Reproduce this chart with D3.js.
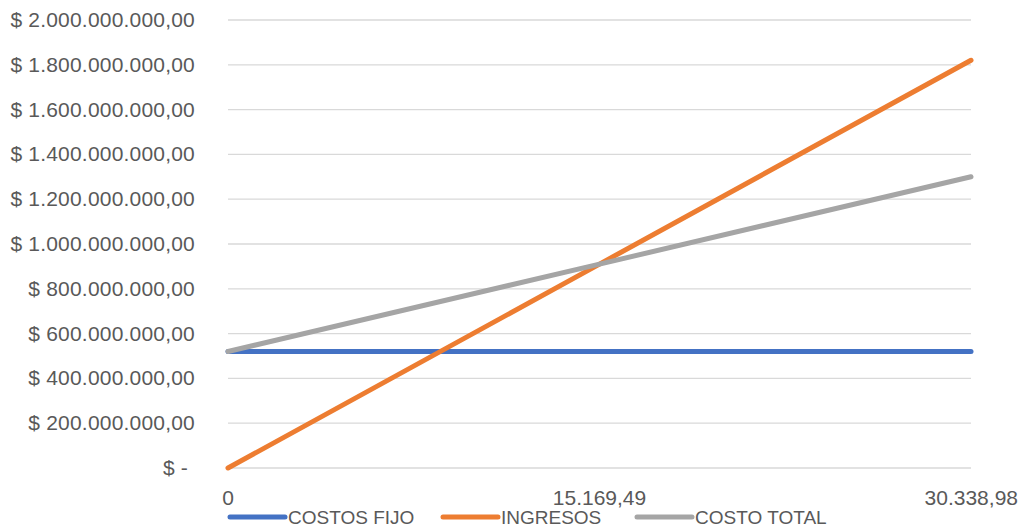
<!DOCTYPE html>
<html lang="es">
<head>
    <meta charset="UTF-8">
    <title>Punto de equilibrio</title>
    <script src="https://d3js.org/d3.v7.min.js"></script>
    <style>
        body { margin: 0; background: #fff; }
        text { font-family: "Liberation Sans", Arial, sans-serif; fill: #595959; }
        .grid line { stroke: #d9d9d9; stroke-width: 1.3; }
    </style>
</head>
<body>
    <svg id="chart" width="1022" height="527"></svg>
    <script>
        const categories = ["0", "15.169,49", "30.338,98"];
        const costosFijo = [520000000, 520000000, 520000000];
        const ingresos = [0, 910170000, 1820340000];
        const costoTotal = [520000000, 910170000, 1300340000];
        const yTicks = [0, 200e6, 400e6, 600e6, 800e6, 1000e6, 1200e6, 1400e6, 1600e6, 1800e6, 2000e6];

        const series = [
            { name: "COSTOS FIJO", values: costosFijo, color: "#4472C4" },
            { name: "INGRESOS", values: ingresos, color: "#ED7D31" },
            { name: "COSTO TOTAL", values: costoTotal, color: "#A5A5A5" }
        ];

        const plotLeft = 228, plotRight = 971, plotTop = 20, plotBottom = 468;

        const svg = d3.select("#chart");

        const x = d3.scalePoint().domain(categories).range([plotLeft, plotRight]).padding(0);
        const y = d3.scaleLinear().domain([0, 2e9]).range([plotBottom, plotTop]);

        const fmt = v => {
            if (v === 0) return "$ -";
            const s = d3.format(",.2f")(v);
            return "$ " + s.replace(/,/g, "#").replace(".", ",").replace(/#/g, ".");
        };

        // gridlines
        svg.append("g").attr("class", "grid")
            .selectAll("line")
            .data(yTicks)
            .join("line")
            .attr("x1", plotLeft).attr("x2", plotRight)
            .attr("y1", d => y(d)).attr("y2", d => y(d));

        // y labels
        svg.append("g")
            .selectAll("text")
            .data(yTicks)
            .join("text")
            .attr("x", d => d === 0 ? 188 : 195)
            .attr("y", d => y(d) + 7)
            .attr("text-anchor", "end")
            .attr("font-size", 21)
            .attr("letter-spacing", 0.2)
            .text(fmt);

        // x labels
        svg.append("g")
            .selectAll("text")
            .data(categories)
            .join("text")
            .attr("x", (d, i) => i === categories.length - 1 ? 1018 : x(d))
            .attr("y", 505)
            .attr("text-anchor", (d, i) => i === categories.length - 1 ? "end" : "middle")
            .attr("font-size", 21)
            .text(d => d);

        const line = d3.line()
            .x((d, i) => x(categories[i]))
            .y(d => y(d));

        svg.append("g")
            .selectAll("path")
            .data(series)
            .join("path")
            .attr("d", d => line(d.values))
            .attr("fill", "none")
            .attr("stroke", d => d.color)
            .attr("stroke-width", 5)
            .attr("stroke-linecap", "round");

        // legend
        const legendX = [230, 443, 637];
        const lg = svg.append("g")
            .selectAll("g")
            .data(series)
            .join("g")
            .attr("transform", (d, i) => `translate(${legendX[i]},517)`);
        lg.append("line")
            .attr("x1", 0).attr("x2", 55)
            .attr("stroke", d => d.color)
            .attr("stroke-width", 5)
            .attr("stroke-linecap", "round");
        lg.append("text")
            .attr("x", 58)
            .attr("y", 7)
            .attr("font-size", 19)
            .text(d => d.name);
    </script>
</body>
</html>
